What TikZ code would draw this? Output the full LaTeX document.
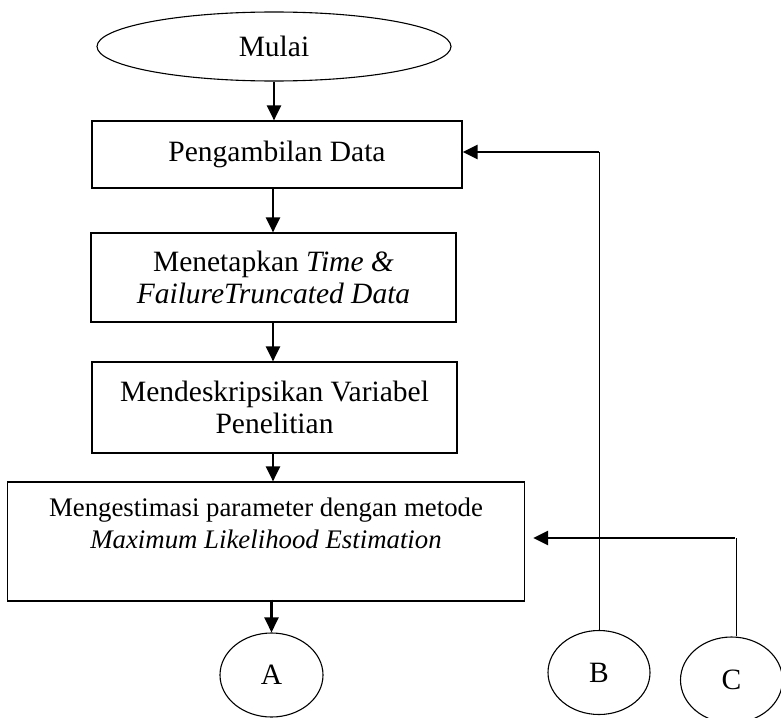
\documentclass[tikz,border=0pt]{standalone}
\usepackage{fontspec}
\setmainfont{Liberation Serif}
\usetikzlibrary{arrows.meta,shapes.geometric}
\begin{document}
\begin{tikzpicture}[x=1pt,y=-1pt,
  box/.style={draw,line width=1.2pt,rectangle,inner sep=0pt,align=center},
  oval/.style={draw,line width=1.1pt,ellipse,inner sep=0pt},
  txt/.style={font=\fontsize{29.5}{32.5}\selectfont},
  stxt/.style={font=\fontsize{26.8}{32}\selectfont,align=center,inner sep=0pt},
  arr/.style={line width=2.2pt,-{Triangle[length=15pt,width=14pt]}},
  farr/.style={line width=2.8pt,-{Triangle[length=15pt,width=14pt]}},
  thinline/.style={line width=1pt}
]
\useasboundingbox (0,0) rectangle (781,717);
\node[oval,txt,minimum width=354,minimum height=69] (mulai) at (274,46.5) {Mulai};
\node[box,txt,minimum width=370,minimum height=67] (b1) at (277,154.5) {Pengambilan Data};
\node[box,txt,minimum width=365,minimum height=89] (b2) at (273.5,277.5) {Menetapkan \textit{Time \&}\\\textit{FailureTruncated Data}};
\node[box,txt,minimum width=365,minimum height=91] (b3) at (274.5,407.5) {Mendeskripsikan Variabel\\Penelitian};
\node[box,minimum width=517,minimum height=119] (b4) at (266,541.5) {};
\node[stxt] (t4) at (266,523) {Mengestimasi parameter dengan metode\\\textit{Maximum Likelihood Estimation}};
\node[oval,txt,minimum width=103,minimum height=84] (A) at (271.5,675) {A};
\node[oval,txt,minimum width=102,minimum height=84] (B) at (599,672.5) {B};
\node[oval,txt,minimum width=102,minimum height=86] (C) at (731.5,680) {C};
\coordinate (cB) at (599.5,152);
\coordinate (cC) at (736,538);

\draw[arr] (mulai.south) -- (mulai.south |- b1.north);
\draw[arr] ([xshift=-4pt]b1.south) -- ([xshift=-4pt]b1.south |- b2.north);
\draw[arr] ([xshift=-0.5pt]b2.south) -- ([xshift=-0.5pt]b2.south |- b3.north);
\draw[arr] ([xshift=-1.5pt]b3.south) -- ([xshift=-1.5pt]b3.south |- b4.north);
\draw[arr] ([yshift=2pt]A.north |- b4.south) -- (A.north);

\draw[thinline] (cB |- B.north) -- (cB);
\draw[farr] ([xshift=-1pt]cB) -- (cB -| b1.east);
\draw[thinline] (cC |- C.north) -- (cC);
\draw[farr,shorten >=8pt] ([xshift=-1pt]cC) -- (cC -| b4.east);
\end{tikzpicture}
\end{document}
